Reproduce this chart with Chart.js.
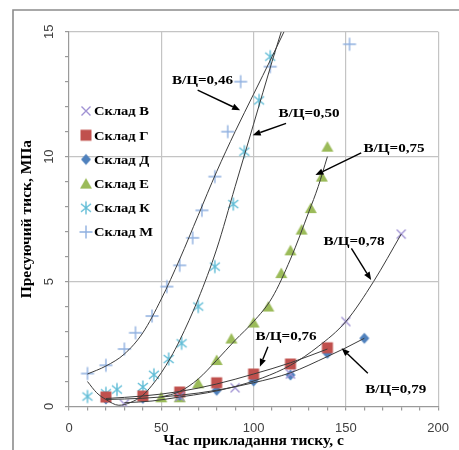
<!DOCTYPE html>
<html><head><meta charset="utf-8">
<script src="https://cdn.jsdelivr.net/npm/chart.js@4/dist/chart.umd.min.js"></script>
<style>html,body{margin:0;padding:0;background:#fff;}#wrap{width:459px;height:450px;position:relative;}</style>
</head><body><div id="wrap"><canvas id="c" width="459" height="450"></canvas></div>
<script>
// ---- data ----
const seriesNames = ['Склад В','Склад Г','Склад Д','Склад Е','Склад К','Склад М'];
const xB = [30,60,90,120,150,180];
const yB = [0.1,0.4,0.75,1.3,3.4,6.9];
const xG = [20,40,60,80,100,120,140];
const yG = [0.38,0.42,0.58,0.95,1.3,1.7,2.35];
const xD = [20,40,60,80,100,120,140,160];
const yD = [0.3,0.33,0.45,0.65,1.02,1.26,2.13,2.73];
const xE = [50,60,70,80,88,100,108,115,120,126,131,137,140];
const yE = [0.37,0.37,0.93,1.86,2.72,3.36,4.0,5.34,6.25,7.08,7.94,9.2,10.4];
const xK = [10,20,26,40,46,54,61,70,79,89,95,103,109];
const yK = [0.4,0.53,0.68,0.78,1.27,1.9,2.53,4.0,5.6,8.1,10.2,12.25,14.0];
const xM = [10,20,30,36,45,53,60,67,72,79,86,93,109,152];
const yM = [1.32,1.65,2.3,2.95,3.62,4.8,5.65,6.75,7.85,9.2,11.0,13.0,13.6,14.5];

// trend curves
const tMx = [10,20,30,40,50,60,70,80,90,100,110,116.5];
const tMy = [1.3,1.62,2.1,2.95,4.3,5.9,7.65,9.4,11.0,12.5,14.0,15];
const tKx = [10,15,20,27,33,40,45,50,55,60,70,80,90,100,110,115];
const tKy = [1.0,0.55,0.28,0.05,0.15,0.45,0.85,1.35,1.95,2.65,4.3,6.3,8.8,11.3,13.8,15];
const tEx = [50,60,70,80,90,100,110,120,130,135,140];
const tEy = [0.38,0.6,1.1,1.85,2.65,3.4,4.35,5.9,7.8,8.8,10.0];
const tBx = [30,45,60,75,90,105,120,135,150,165,180];
const tBy = [0.15,0.22,0.38,0.55,0.8,1.15,1.65,2.4,3.4,5.0,6.9];
const tGx = [20,40,60,80,100,120,140];
const tGy = [0.32,0.42,0.6,0.9,1.3,1.75,2.3];
const tDx = [20,40,60,80,100,120,140,150,160];
const tDy = [0.28,0.33,0.45,0.65,0.95,1.35,2.0,2.35,2.73];

const xTickLabels = [0,50,100,150,200];
const yTickLabels = [0,5,10,15];

// curve labels: text, label centre, arrow start, arrow tip (data units)
const annText = ['В/Ц=0,46','В/Ц=0,50','В/Ц=0,75','В/Ц=0,78','В/Ц=0,76','В/Ц=0,79'];
const annLabel = [[72.3,13.06],[130,11.72],[176.1,10.33],[154.4,6.59],[117.6,2.79],[177,0.66]];
const annFrom  = [[69.7,12.66],[117.6,11.33],[158.3,10.15],[153.0,6.33],[107.8,2.39],[161.9,1.33]];
const annTo    = [[92.7,11.86],[99.5,10.86],[133.5,9.26],[163.7,5.06],[103.4,1.59],[147.7,2.33]];

// ---- styles ----
const cB='#a092d4', cG='#c0504d', cD='#4f81bd', cE='#9bbb59', cK='#5fbcd6', cM='#8fb0e0';
function makeMarker(kind, color){
  const s=16, c=document.createElement('canvas'); c.width=s; c.height=s;
  const g=c.getContext('2d'), m=s/2;
  g.strokeStyle=color; g.fillStyle=color; g.lineWidth=1.4;
  g.beginPath();
  if(kind==='x'){ g.moveTo(m-4.5,m-4.5); g.lineTo(m+4.5,m+4.5); g.moveTo(m+4.5,m-4.5); g.lineTo(m-4.5,m+4.5); g.stroke(); }
  else if(kind==='square'){ g.fillRect(m-5.5,m-5.5,11,11); }
  else if(kind==='diamond'){ g.moveTo(m,m-5.5); g.lineTo(m+5,m); g.lineTo(m,m+5.5); g.lineTo(m-5,m); g.closePath(); g.fill(); }
  else if(kind==='triangle'){ g.moveTo(m,m-5.5); g.lineTo(m+6,m+5); g.lineTo(m-6,m+5); g.closePath(); g.fill(); }
  else if(kind==='star'){ g.moveTo(m,m-6.5); g.lineTo(m,m+6.5); g.moveTo(m-5,m-4); g.lineTo(m+5,m+4); g.moveTo(m+5,m-4); g.lineTo(m-5,m+4); g.stroke(); }
  else if(kind==='plus'){ g.moveTo(m-6.5,m); g.lineTo(m+6.5,m); g.moveTo(m,m-6.5); g.lineTo(m,m+6.5); g.stroke(); }
  return c;
}
const markers=[makeMarker('x',cB),makeMarker('square',cG),makeMarker('diamond',cD),makeMarker('triangle',cE),makeMarker('star',cK),makeMarker('plus',cM)];
const pts=(xs,ys)=>xs.map((x,i)=>({x:x,y:ys[i]}));
const trendColor='#3c3c3c';
function trend(xs,ys){return {type:'line',data:pts(xs,ys),showLine:true,borderColor:trendColor,borderWidth:1,pointRadius:0,cubicInterpolationMode:'monotone',fill:false,isTrend:true};}
function series(i,xs,ys){return {type:'scatter',label:seriesNames[i],data:pts(xs,ys),pointStyle:markers[i],pointRadius:6,showLine:false};}

const datasets=[
  trend(tMx,tMy),trend(tKx,tKy),trend(tEx,tEy),trend(tBx,tBy),trend(tGx,tGy),trend(tDx,tDy),
  series(0,xB,yB),series(1,xG,yG),series(2,xD,yD),series(3,xE,yE),series(4,xK,yK),series(5,xM,yM)
];

const serif='"Liberation Serif","Times New Roman",serif';
const sans='"Liberation Sans",Arial,sans-serif';

const decor={
  id:'decor',
  beforeDraw(chart){
    const ctx=chart.ctx; ctx.save();
    ctx.fillStyle='#fff'; ctx.fillRect(0,0,chart.width,chart.height);
    ctx.strokeStyle='#8c8c8c'; ctx.lineWidth=1.6;
    ctx.beginPath(); ctx.moveTo(13,chart.height+2); ctx.lineTo(13,10); ctx.lineTo(chart.width+2,10); ctx.stroke();
    ctx.restore();
  },
  afterDraw(chart){
    const ctx=chart.ctx, xs=chart.scales.x, ys=chart.scales.y;
    ctx.save();
    // y tick labels, rotated
    ctx.fillStyle='#404040'; ctx.font='13px '+sans; ctx.textAlign='center'; ctx.textBaseline='middle';
    yTickLabels.forEach(v=>{const py=ys.getPixelForValue(v); ctx.save(); ctx.translate(49,py); ctx.rotate(-Math.PI/2); ctx.fillText(String(v),0,0); ctx.restore();});
    // legend
    ctx.fillStyle='#000'; ctx.textAlign='left'; ctx.textBaseline='middle'; ctx.font='bold 13px '+serif;
    seriesNames.forEach((n,i)=>{
      const y=111+i*24.2;
      ctx.drawImage(markers[i],86-8,y-8);
      ctx.save(); ctx.translate(94,y+1); ctx.scale(1.12,1); ctx.fillText(n,0,0); ctx.restore();
    });
    // curve labels with arrows
    ctx.strokeStyle='#000'; ctx.fillStyle='#000'; ctx.lineWidth=1.4;
    annText.forEach((t,i)=>{
      const fx=xs.getPixelForValue(annFrom[i][0]), fy=ys.getPixelForValue(annFrom[i][1]);
      const tx=xs.getPixelForValue(annTo[i][0]), ty=ys.getPixelForValue(annTo[i][1]);
      const a=Math.atan2(ty-fy,tx-fx), L=8, W=3.2;
      const bx=tx-L*Math.cos(a), by=ty-L*Math.sin(a);
      ctx.beginPath(); ctx.moveTo(fx,fy); ctx.lineTo(bx,by); ctx.stroke();
      ctx.beginPath(); ctx.moveTo(tx,ty); ctx.lineTo(bx+W*Math.sin(a),by-W*Math.cos(a)); ctx.lineTo(bx-W*Math.sin(a),by+W*Math.cos(a)); ctx.closePath(); ctx.fill();
      const lx=xs.getPixelForValue(annLabel[i][0]), ly=ys.getPixelForValue(annLabel[i][1]);
      ctx.save(); ctx.font='bold 13.5px '+serif; ctx.textAlign='center'; ctx.textBaseline='middle';
      ctx.translate(lx,ly); ctx.scale(1.12,1); ctx.fillText(t,0,0); ctx.restore();
    });
    ctx.restore();
  }
};

new Chart(document.getElementById('c'),{
  type:'scatter',
  data:{datasets:datasets},
  options:{
    responsive:false, animation:false, events:[],
    layout:{padding:{top:31.7,right:15,bottom:0,left:0}},
    plugins:{legend:{display:false},tooltip:{enabled:false}},
    scales:{
      x:{type:'linear',min:0,max:200,
        ticks:{stepSize:10,autoSkip:false,maxRotation:0,padding:10,color:'#404040',font:{family:sans,size:13},
          callback:v=>xTickLabels.includes(v)?String(v):''},
        grid:{color:c=>(c.tick&&c.tick.value%50===0&&c.tick.value!==0)?'#c4c4c4':'rgba(0,0,0,0)',tickColor:'#9a9a9a',tickLength:4,lineWidth:1.2},
        border:{color:'#9a9a9a',width:1.2},
        title:{display:true,text:'Час прикладання тиску, с',font:{family:serif,size:15.5,weight:'bold'},color:'#000',padding:{top:0,bottom:0}},
        afterFit:s=>{s.height=43.5;}
      },
      y:{type:'linear',min:0,max:15,
        ticks:{stepSize:1,autoSkip:false,display:false},
        grid:{color:c=>(c.tick&&c.tick.value%5===0&&c.tick.value!==0)?'#c4c4c4':'rgba(0,0,0,0)',tickColor:'#9a9a9a',tickLength:4,lineWidth:1.2},
        border:{color:'#9a9a9a',width:1.2},
        title:{display:true,text:'Пресуючий тиск, МПа',font:{family:serif,size:15.5,weight:'bold'},color:'#000',padding:{top:17.5,bottom:0}},
        afterFit:s=>{s.width=69;}
      }
    }
  },
  plugins:[decor]
});
</script></body></html>
